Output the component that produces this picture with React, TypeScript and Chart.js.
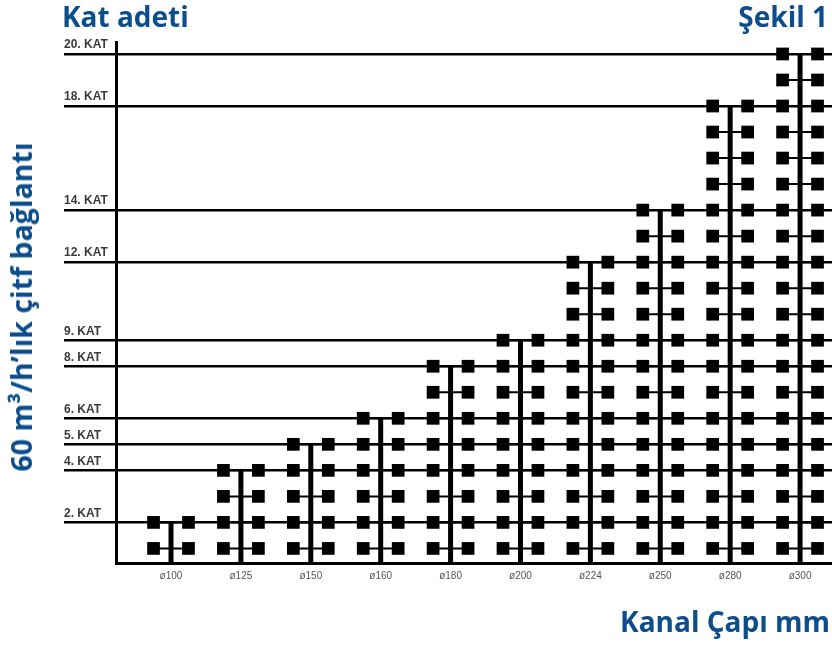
import React, { useEffect, useRef } from "react";
import { Chart, registerables } from "chart.js";
Chart.register(...registerables);

const diameters = ["ø100", "ø125", "ø150", "ø160", "ø180", "ø200", "ø224", "ø250", "ø280", "ø300"];
const maxFloors = [2, 4, 5, 6, 8, 9, 12, 14, 18, 20];
const katLevels = [2, 4, 5, 6, 8, 9, 12, 14, 18, 20];
const katLabels = katLevels.map((k) => `${k}. KAT`);

const BLUE = "#0c4e8c";
const OFFSET = 0.25;

export default function App() {
  const ref = useRef<HTMLCanvasElement>(null);
  useEffect(() => {
    const squares: any[] = [];
    const connectors: any[] = [];
    const stems: any[] = [];
    maxFloors.forEach((m, i) => {
      for (let f = 1; f <= m; f++) {
        squares.push({ x: i - OFFSET, y: f }, { x: i + OFFSET, y: f });
        connectors.push({ x: i - OFFSET, y: f }, { x: i + OFFSET, y: f }, { x: i, y: null });
      }
      stems.push({ x: i, y: 0 }, { x: i, y: m }, { x: i, y: null });
    });
    const chart = new Chart(ref.current!, {
      type: "scatter",
      data: {
        datasets: [
          { data: stems, showLine: true, borderColor: "#000", borderWidth: 5, pointRadius: 0, spanGaps: false, order: 3 } as any,
          { data: connectors, showLine: true, borderColor: "#000", borderWidth: 2, pointRadius: 0, spanGaps: false, order: 2 } as any,
          { data: squares, pointStyle: "rect", pointRadius: 9, backgroundColor: "#000", borderWidth: 0, order: 1 } as any,
        ],
      },
      options: {
        responsive: false,
        animation: false,
        events: [],
        layout: { autoPadding: false, padding: { left: 64, top: 42, right: 0, bottom: 0 } },
        plugins: { legend: { display: false }, tooltip: { enabled: false }, title: { display: false } },
        scales: {
          x: {
            type: "linear",
            min: -0.787,
            max: 9.457,
            afterBuildTicks: (s: any) => {
              s.ticks = diameters.map((_, i) => ({ value: i }));
            },
            afterFit: (s: any) => {
              s.height = 83;
            },
            grid: { display: false, drawTicks: false },
            border: { display: true, color: "#000", width: 3 },
            ticks: {
              callback: (_v: any, idx: number) => diameters[idx],
              font: { family: "Liberation Sans", size: 10 },
              color: "#555",
              padding: 7,
              maxRotation: 0,
              autoSkip: false,
            },
          },
          y: {
            type: "linear",
            min: 0.44,
            max: 20.46,
            afterBuildTicks: (s: any) => {
              s.ticks = katLevels.map((v) => ({ value: v }));
            },
            afterFit: (s: any) => {
              s.width = 52;
            },
            grid: { color: "#000", lineWidth: 2.5, drawTicks: true, tickLength: 52 },
            border: { color: "#000", width: 3 },
            ticks: {
              callback: (_v: any, idx: number) => katLabels[idx],
              crossAlign: "far",
              labelOffset: -9,
              font: { family: "Liberation Sans", size: 12, weight: "bold" },
              color: "#3a3a3a",
              padding: 0,
              autoSkip: false,
            },
          },
        },
      } as any,
    });
    return () => chart.destroy();
  }, []);

  const titleStyle: React.CSSProperties = {
    position: "absolute",
    fontFamily: "'Open Sans', sans-serif",
    fontWeight: 700,
    fontSize: 28,
    lineHeight: "28px",
    color: BLUE,
    whiteSpace: "nowrap",
    margin: 0,
  };

  return (
    <div style={{ position: "absolute", left: 0, top: 0, width: 832, height: 646, background: "#fff", overflow: "hidden" }}>
      <canvas ref={ref} width={832} height={646} style={{ position: "absolute", left: 0, top: 0 }} />
      <div style={{ ...titleStyle, left: 62, top: 2 }}>Kat adeti</div>
      <div style={{ ...titleStyle, right: 4, top: 2 }}>Şekil 1</div>
      <div style={{ ...titleStyle, right: 2, top: 607 }}>Kanal Çapı mm</div>
      <div
        style={{
          ...titleStyle,
          fontSize: 28.5,
          left: 21,
          top: 307,
          transform: "translate(-50%, -50%) rotate(-90deg)",
        }}
      >
        60 m³/h’lık çitf bağlantı
      </div>
    </div>
  );
}
